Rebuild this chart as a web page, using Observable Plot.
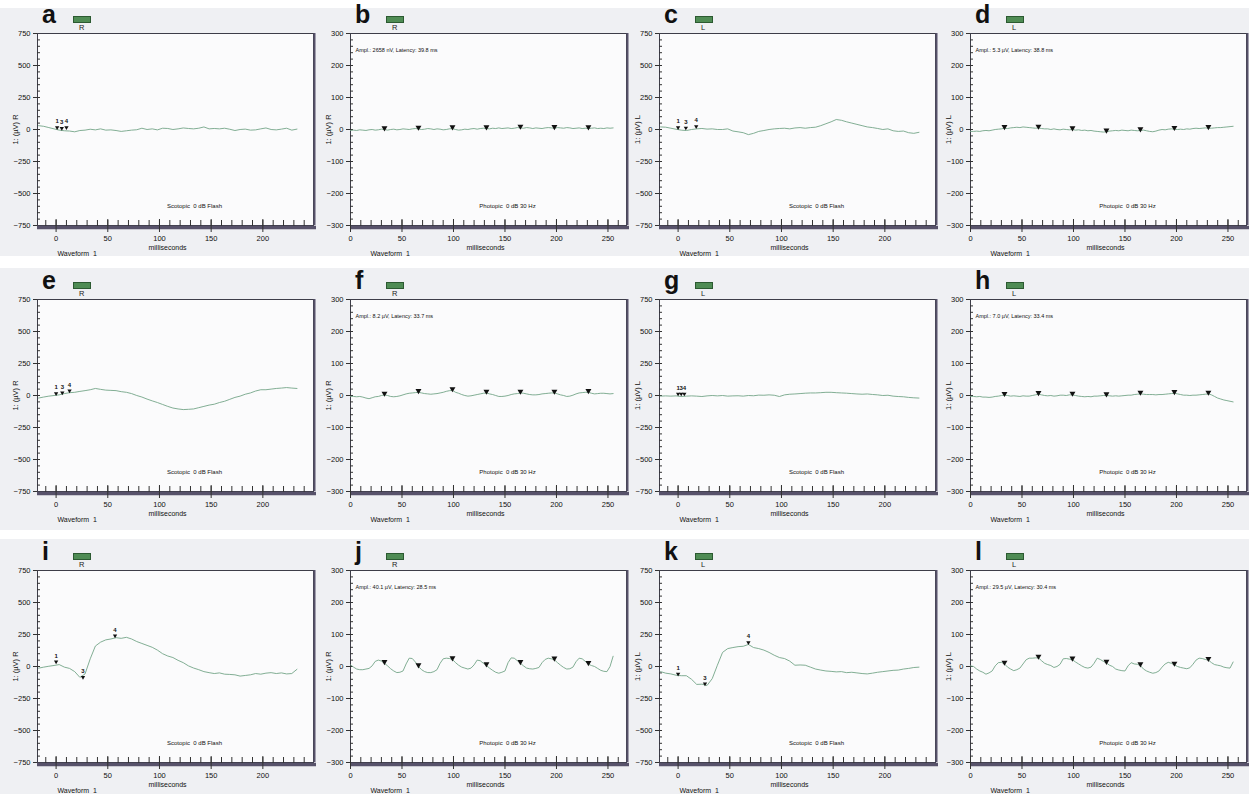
<!DOCTYPE html>
<html><head><meta charset="utf-8">
<script src="https://cdn.jsdelivr.net/npm/d3@7"></script>
<script src="https://cdn.jsdelivr.net/npm/@observablehq/plot@0.6"></script>
<style>
html,body{margin:0;padding:0;background:#fff}
body{width:1249px;height:794px;overflow:hidden;position:relative;font-family:"Liberation Sans",Arial,sans-serif}
.rowbg{position:absolute;left:0;width:1249px;background:#eff0f3}
.panel{position:absolute;overflow:hidden;width:320px}
.panel svg{position:absolute;left:0;top:0}
.letter{position:absolute;font-weight:bold;font-size:25px;line-height:1;color:#111}
.eyebox{position:absolute;width:18px;height:7px;box-sizing:border-box;background:#4f8c54;border:1px solid #2c5a31}
.eye{position:absolute;font-size:7.5px;line-height:1;color:#222}
</style></head><body>
<script>
// ---------- sampling times (ms) ----------
const scotopicMs = [-17,-12,-7,-2,3,8,13,18,23,28,33,38,43,48,53,58,63,68,73,78,83,88,93,98,103,108,113,118,123,128,133,138,143,148,153,158,163,168,173,178,183,188,193,198,203,208,213,218,223,228,233];
const photopicMs = [0,3,6,9,12,15,18,21,24,27,30,33,36,39,42,45,48,51,54,57,60,63,66,69,72,75,78,81,84,87,90,93,96,99,102,105,108,111,114,117,120,123,126,129,132,135,138,141,144,147,150,153,156,159,162,165,168,171,174,177,180,183,186,189,192,195,198,201,204,207,210,213,216,219,222,225,228,231,234,237,240,243,246,249,252,255];

// ---------- waveforms (µV) ----------
const waveA = [30,25,15,5,-5,-10,-12,-18,-8,-5,2,-3,5,-5,-3,-8,-15,-10,-5,-2,10,0,5,-3,10,8,0,5,12,8,5,10,20,5,8,5,10,2,-8,0,3,-5,-3,5,12,0,-3,3,10,-5,3];
const waveB = [-3,-2,-3,-1,-2,-3,-1,0,-2,-1, 1,0,-2,0,1,-1,0,2,1,0, 2,3,2,0,1,3,2,0,2,1, -1,0,2,3,0,-2,-1,1,0,2, 3,1,3,4,3,2,4,3,5,3, 4,5,3,4,6,5,4,6,5,3, 5,4,3,5,6,5,4,6,5,4, 6,5,3,4,5,3,4,3,4,5, 3,4,3,5,4,5];
const waveC = [20,18,10,2,-5,-8,0,5,8,3,5,0,0,5,-12,-18,-25,-40,-30,-15,-8,0,5,8,10,5,12,15,10,15,18,30,45,60,78,72,60,50,40,30,20,15,8,0,5,-10,-15,-12,-25,-30,-22];
const waveD = [-6,-6,-5,-6,-4,-3,-4,-2,0,1, 2,4,3,5,6,7,6,8,7,6, 5,4,5,3,2,2,0,2,0,-1, 1,0,-1,0,-2,-1,-3,-2,-4,-3, -5,-6,-7,-8,-7,-5,-4,-3,-4,-2, -3,-4,-2,-3,-4,-3,-2,-4,-6,-7, -5,-2,0,-1,1,2,1,0,1,0, 2,1,3,4,3,4,5,4,4,5, 6,6,7,8,9,10];
const waveE = [-20,-12,-5,0,5,15,22,25,32,38,45,55,48,42,40,38,30,25,15,0,-12,-28,-42,-55,-70,-85,-98,-105,-110,-108,-105,-95,-85,-75,-68,-55,-45,-30,-15,-5,10,20,35,45,45,50,55,58,62,58,55];
const waveF = [-3,-3,-4,-3,-5,-8,-10,-7,-4,-3, 0,2,0,-3,-4,-3,-1,2,5,7, 8,9,10,8,6,5,4,5,6,8, 10,13,15,16,10,7,3,0,-2,-1, 1,3,5,7,8,5,3,0,-3,-3, -2,0,3,5,6,8,7,5,3,2, 2,3,5,6,7,8,8,5,2,0, -3,-2,1,5,8,9,10,10,7,5, 6,7,7,6,5,6];
const waveG = [-5,-3,-5,-3,-8,-5,-3,-5,-8,-3,0,-3,0,-5,-3,-2,-5,0,-2,3,2,5,2,-8,5,10,12,15,18,20,20,22,25,25,22,20,18,15,12,10,12,8,5,0,2,-5,-8,-10,-15,-18,-20];
const waveH = [-3,-3,-4,-3,-5,-5,-6,-5,-3,-2, 0,1,0,-2,-1,-2,-3,-1,-2,-2, 0,2,4,2,0,-1,0,-2,-1,1, 1,0,2,2,0,-2,-3,-4,-3,-4, -2,-2,-1,0,0,-1,-2,-1,-2,-1, 0,1,1,3,4,5,4,3,3,3, 2,3,3,4,5,6,7,5,3,1, 1,0,1,1,2,3,4,5,2,-3, -8,-11,-14,-16,-18,-20];
const waveI = [-13,-5,2,8,15,-5,-15,-40,-85,-58,60,160,190,208,215,225,220,228,215,195,180,165,150,128,100,82,70,48,30,5,-12,-25,-40,-48,-55,-50,-60,-62,-65,-75,-70,-65,-55,-60,-52,-48,-55,-50,-58,-55,-22];
const waveJ = [5,-2,-8,-10,-10,-8,-6,2,16,20, 17,10,2,-7,-14,-19,-18,-14,8,26, 25,14,0,-10,-16,-19,-19,-16,-10,10, 24,26,25,22,12,4,-2,-5,-8,-5, 5,20,18,10,3,-5,-12,-18,-21,-18, -14,12,27,26,18,10,2,-5,-7,-8, -6,-3,12,22,26,24,21,12,4,-3, -8,-7,-2,15,26,24,16,7,3,0, -6,-12,-15,-16,0,32];
const waveK = [-40,-52,-58,-68,-72,-72,-100,-140,-138,-148,-95,10,110,140,148,155,158,172,148,140,128,110,88,70,62,42,10,12,10,-5,-20,-28,-35,-38,-42,-40,-48,-45,-50,-55,-58,-52,-45,-40,-35,-30,-28,-20,-15,-8,-5];
const waveL = [2,0,-8,-14,-18,-24,-20,-14,2,12, 13,8,-2,-8,-13,-10,-5,8,21,26, 26,27,27,18,10,6,3,-3,0,7, 24,25,23,21,14,8,2,-3,-5,-2, 10,26,22,16,11,4,0,-8,-11,-13, -14,2,12,8,7,3,-8,-14,-18,-21, -19,-14,-2,8,13,10,5,0,-3,-5, -7,-4,7,20,26,25,22,20,12,6, 4,2,-2,-4,-5,14];

// ---------- analysis markers ----------
const photopicMarkerMs = [33,66,99,132,165,198,231];
const markerUvB = [0,2,3,3,5,4,3];
const markerUvD = [4,5,0,-7,-3,1,4];
const markerUvF = [2,10,16,8,8,8,10];
const markerUvH = [1,4,2,0,5,7,5];
const markerUvJ = [10,0,22,3,10,21,7];
const markerUvL = [8,27,21,11,3,5,20];
const scotopicMarkerLabels = ["1","3","4"];
const markerMsA = [1,5.5,10],  markerUvA = [0,-5,0];
const markerMsC = [0,7.5,17.5], markerUvC = [0,-3,8];
const markerMsE = [0,6,13],    markerUvE = [0,5,22];
const markerMsG = [0,3,6],     markerUvG = [-3,-3,-3];
const markerMsI = [0,26,57],   markerUvI = [21,-100,225];
const markerMsK = [0,26,68],   markerUvK = [-75,-150,172];

// ---------- panel texts ----------
const panelLetters = ["a","b","c","d","e","f","g","h","i","j","k","l"];
const panelEyes = ["R","R","L","L","R","R","L","L","R","R","L","L"];
const protocolLabels = ["Scotopic  0 dB Flash","Photopic  0 dB 30 Hz"];
const amplitudeLabels = ["","Ampl.: 2658 nV, Latency: 39.8 ms","","Ampl.: 5.3 µV, Latency: 38.8 ms",
  "","Ampl.: 8.2 µV, Latency: 33.7 ms","","Ampl.: 7.0 µV, Latency: 33.4 ms",
  "","Ampl.: 40.1 µV, Latency: 28.5 ms","","Ampl.: 29.5 µV, Latency: 30.4 ms"];
const xAxisLabel = "milliseconds";
const waveformLabel = "Waveform  1";

// ---------- axis ticks ----------
const scotopicXTicks = [0,50,100,150,200];
const scotopicXMinor = [-10,0,10,20,30,40,50,60,70,80,90,100,110,120,130,140,150,160,170,180,190,200,210,220,230,240];
const photopicXTicks = [0,50,100,150,200,250];
const photopicXMinor = [10,20,30,40,50,60,70,80,90,100,110,120,130,140,150,160,170,180,190,200,210,220,230,240,250,260];
const scotopicYTicks = [-750,-500,-250,0,250,500,750];
const scotopicYMinor = [-700,-650,-600,-550,-500,-450,-400,-350,-300,-250,-200,-150,-100,-50,0,50,100,150,200,250,300,350,400,450,500,550,600,650,700];
const photopicYTicks = [-300,-200,-100,0,100,200,300];
const photopicYMinor = [-280,-260,-240,-220,-200,-180,-160,-140,-120,-100,-80,-60,-40,-20,0,20,40,60,80,100,120,140,160,180,200,220,240,260,280];
const scotopicXDomain = [-18,249], photopicXDomain = [0,268];
const scotopicYDomain = [-750,750], photopicYDomain = [-300,300];

const waves = [waveA,waveB,waveC,waveD,waveE,waveF,waveG,waveH,waveI,waveJ,waveK,waveL];
const scotMarkMs = [markerMsA,markerMsC,markerMsE,markerMsG,markerMsI,markerMsK];
const scotMarkUv = [markerUvA,markerUvC,markerUvE,markerUvG,markerUvI,markerUvK];
const photMarkUv = [markerUvB,markerUvD,markerUvF,markerUvH,markerUvJ,markerUvL];

// ---------- layout (styling only) ----------
const colLeft = [0,313,622,933];
const rowTop = [0,266,537];
const rowClip = [256,262,257];
const rowBg = [[8,248],[268,262],[539,255]];
const FONT = '"Liberation Sans",Arial,sans-serif';
const lineColor = "#74a588";

rowBg.forEach(([t,h]) => {
  const d = document.createElement("div");
  d.className = "rowbg"; d.style.top = t + "px"; d.style.height = h + "px";
  document.body.appendChild(d);
});

waves.forEach((ys, i) => {
  const scot = i % 2 === 0;
  const col = i % 4, row = Math.floor(i / 4);
  const xs = scot ? scotopicMs : photopicMs;
  const wave = xs.map((t, k) => ({t, v: ys[k]}));
  const j = Math.floor(i / 2);
  const marks = scot
    ? scotMarkMs[j].map((t, k) => ({t, v: scotMarkUv[j][k], label: scotopicMarkerLabels[k]}))
    : photopicMarkerMs.map((t, k) => ({t, v: photMarkUv[j][k]}));
  const xDom = scot ? scotopicXDomain : photopicXDomain;
  const yDom = scot ? scotopicYDomain : photopicYDomain;

  const plotMarks = [
    Plot.frame({fill: "#fbfbfc", stroke: "#3d3d48", strokeWidth: 1}),
    Plot.ruleY([yDom[0]], {stroke: "#57526a", strokeWidth: 3.5, dy: 2, insetRight: -3}),
    Plot.ruleX([xDom[1]], {stroke: "#57526a", strokeWidth: 2, dx: 1}),
    Plot.axisY({ticks: scot ? scotopicYMinor : photopicYMinor, tickSize: 3, dx: 3, tickFormat: () => "", label: null, stroke: "#333"}),
    Plot.axisY({ticks: scot ? scotopicYTicks : photopicYTicks, tickSize: 4, tickPadding: 3, label: null, fontSize: 7.5, stroke: "#333", fill: "#111"}),
    Plot.axisX({ticks: scot ? scotopicXMinor : photopicXMinor, tickSize: 6, dy: -5, tickFormat: () => "", label: null, stroke: "#333"}),
    Plot.axisX({ticks: scot ? scotopicXTicks : photopicXTicks, tickSize: 13, dy: -6, tickPadding: 3, label: null, fontSize: 7.5, stroke: "#333", fill: "#111"}),
    Plot.text([`1: (µV) ${panelEyes[i]}`], {frameAnchor: "left", textAnchor: "middle", rotate: -90, dx: -22, fontSize: 7.5, fill: "#111"}),
    Plot.text([protocolLabels[scot ? 0 : 1]], {frameAnchor: "bottom", dx: 19, dy: -18, fontSize: 6, fill: "#111"}),
    Plot.text([xAxisLabel], {frameAnchor: "bottom", dx: scot ? -8 : -3, dy: 24, fontSize: 7, fill: "#111"}),
    Plot.text([waveformLabel], {frameAnchor: "bottom-left", dx: 20, dy: 30, textAnchor: "start", fontSize: 7, fill: "#111"}),
    Plot.line(wave, {x: "t", y: "v", stroke: lineColor, strokeWidth: 0.9}),
  ];
  if (!scot) {
    plotMarks.push(Plot.text([amplitudeLabels[i]], {frameAnchor: "top-left", dx: 5, dy: 15, textAnchor: "start", fontSize: 5.5, fill: "#111"}));
    plotMarks.push(Plot.dot(marks, {x: "t", y: "v", symbol: "triangle", rotate: 180, r: 2.2, fill: "#111", stroke: "none", dy: -1.5}));
  } else {
    plotMarks.push(Plot.dot(marks, {x: "t", y: "v", symbol: "triangle", rotate: 180, r: 1.6, fill: "#111", stroke: "none", dy: -2}));
    plotMarks.push(Plot.text(marks, {x: "t", y: "v", text: "label", dy: -8, fontSize: 6, fontWeight: "bold", fill: "#111"}));
  }

  const svg = Plot.plot({
    width: 316, height: 265,
    marginLeft: 37, marginRight: 3, marginTop: 33, marginBottom: 40,
    style: {background: "transparent", fontFamily: FONT, fontSize: "7.5px", overflow: "visible"},
    x: {domain: xDom},
    y: {domain: yDom},
    marks: plotMarks
  });

  const box = document.createElement("div");
  box.className = "panel";
  box.style.left = colLeft[col] + "px";
  box.style.top = rowTop[row] + "px";
  box.style.height = rowClip[row] + "px";
  box.appendChild(svg);

  const letter = document.createElement("div");
  letter.className = "letter"; letter.textContent = panelLetters[i];
  letter.style.left = "42px"; letter.style.top = "2px";
  box.appendChild(letter);
  const eb = document.createElement("div");
  eb.className = "eyebox"; eb.style.left = "73px"; eb.style.top = "16px";
  box.appendChild(eb);
  const ey = document.createElement("div");
  ey.className = "eye"; ey.textContent = panelEyes[i];
  ey.style.left = "79px"; ey.style.top = "24px";
  box.appendChild(ey);

  document.body.appendChild(box);
});
</script>
</body></html>
